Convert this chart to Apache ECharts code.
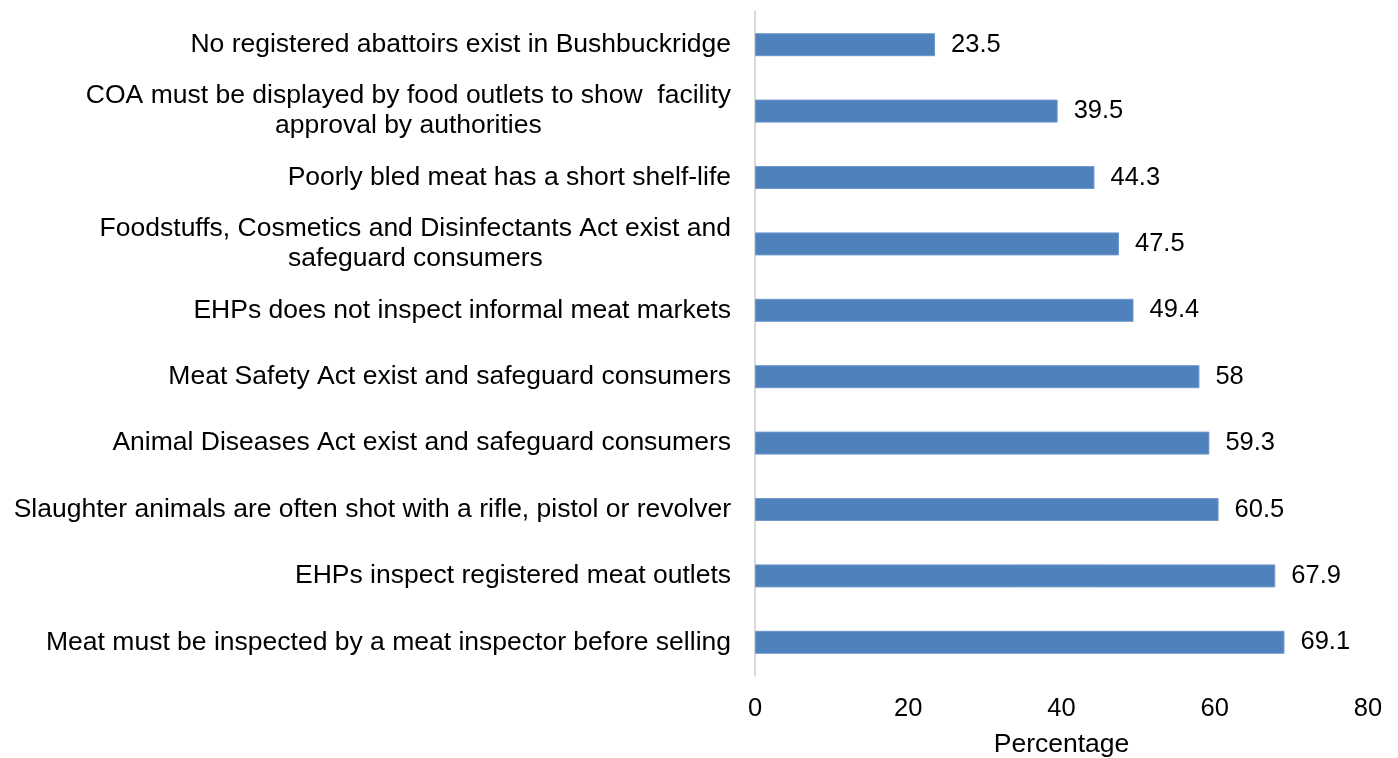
<!DOCTYPE html>
<html>
<head>
<meta charset="utf-8">
<script src="https://cdn.jsdelivr.net/npm/echarts@6/dist/echarts.min.js"></script>
<style>
  html, body { margin: 0; padding: 0; background: #fff; }
  #chart { width: 1398px; height: 758px; }
</style>
</head>
<body>
<div id="chart"></div>
<script>
// categories, top to bottom
var categories = [
  "No registered abattoirs exist in Bushbuckridge",
  "COA must be displayed by food outlets to show  facility\napproval by authorities",
  "Poorly bled meat has a short shelf-life",
  "Foodstuffs, Cosmetics and Disinfectants Act exist and\nsafeguard consumers",
  "EHPs does not inspect informal meat markets",
  "Meat Safety Act exist and safeguard consumers",
  "Animal Diseases Act exist and safeguard consumers",
  "Slaughter animals are often shot with a rifle, pistol or revolver",
  "EHPs inspect registered meat outlets",
  "Meat must be inspected by a meat inspector before selling"
];
var values = [23.5, 39.5, 44.3, 47.5, 49.4, 58, 59.3, 60.5, 67.9, 69.1];
var xTicks = [0, 20, 40, 60, 80];

var font = "'Liberation Sans', Arial, sans-serif";
var chart = echarts.init(document.getElementById("chart"));

var option = {
  backgroundColor: "#fff",
  animation: false,
  grid: {
    left: 755,
    right: 30,
    top: 11.5,
    bottom: 82.5,
    containLabel: false,
    outerBoundsMode: "none"
  },
  xAxis: {
    type: "value",
    min: xTicks[0],
    max: xTicks[xTicks.length - 1],
    interval: xTicks[1] - xTicks[0],
    name: "Percentage",
    nameLocation: "middle",
    nameGap: 56,
    nameTextStyle: { color: "#000", fontSize: 26.5, fontFamily: font },
    axisLine: { show: false },
    axisTick: { show: false },
    splitLine: { show: false },
    axisLabel: { color: "#000", fontSize: 25.5, fontFamily: font, margin: 20 }
  },
  yAxis: {
    type: "category",
    inverse: true,
    data: categories,
    axisLine: { show: true, lineStyle: { color: "#d9d9d9", width: 2 } },
    axisTick: { show: false },
    axisLabel: {
      margin: 24,
      fontSize: 26.5,
      fontFamily: font,
      color: "#000",
      lineHeight: 30,
      formatter: function (v) {
        // lines centered inside the right-aligned block
        return v.split("\n").map(function (s) { return "{c|" + s + "}"; }).join("\n");
      },
      rich: {
        c: { align: "center", fontSize: 26.5, fontFamily: font, color: "#000", lineHeight: 30 }
      }
    }
  },
  series: [{
    type: "bar",
    data: values,
    barWidth: 23,
    itemStyle: { color: "#4f81bd", borderColor: "#6f98cb", borderWidth: 1 },
    label: {
      show: true,
      position: "right",
      distance: 16,
      color: "#000",
      fontSize: 25.5,
      fontFamily: font
    }
  }]
};
chart.setOption(option);
</script>
</body>
</html>
